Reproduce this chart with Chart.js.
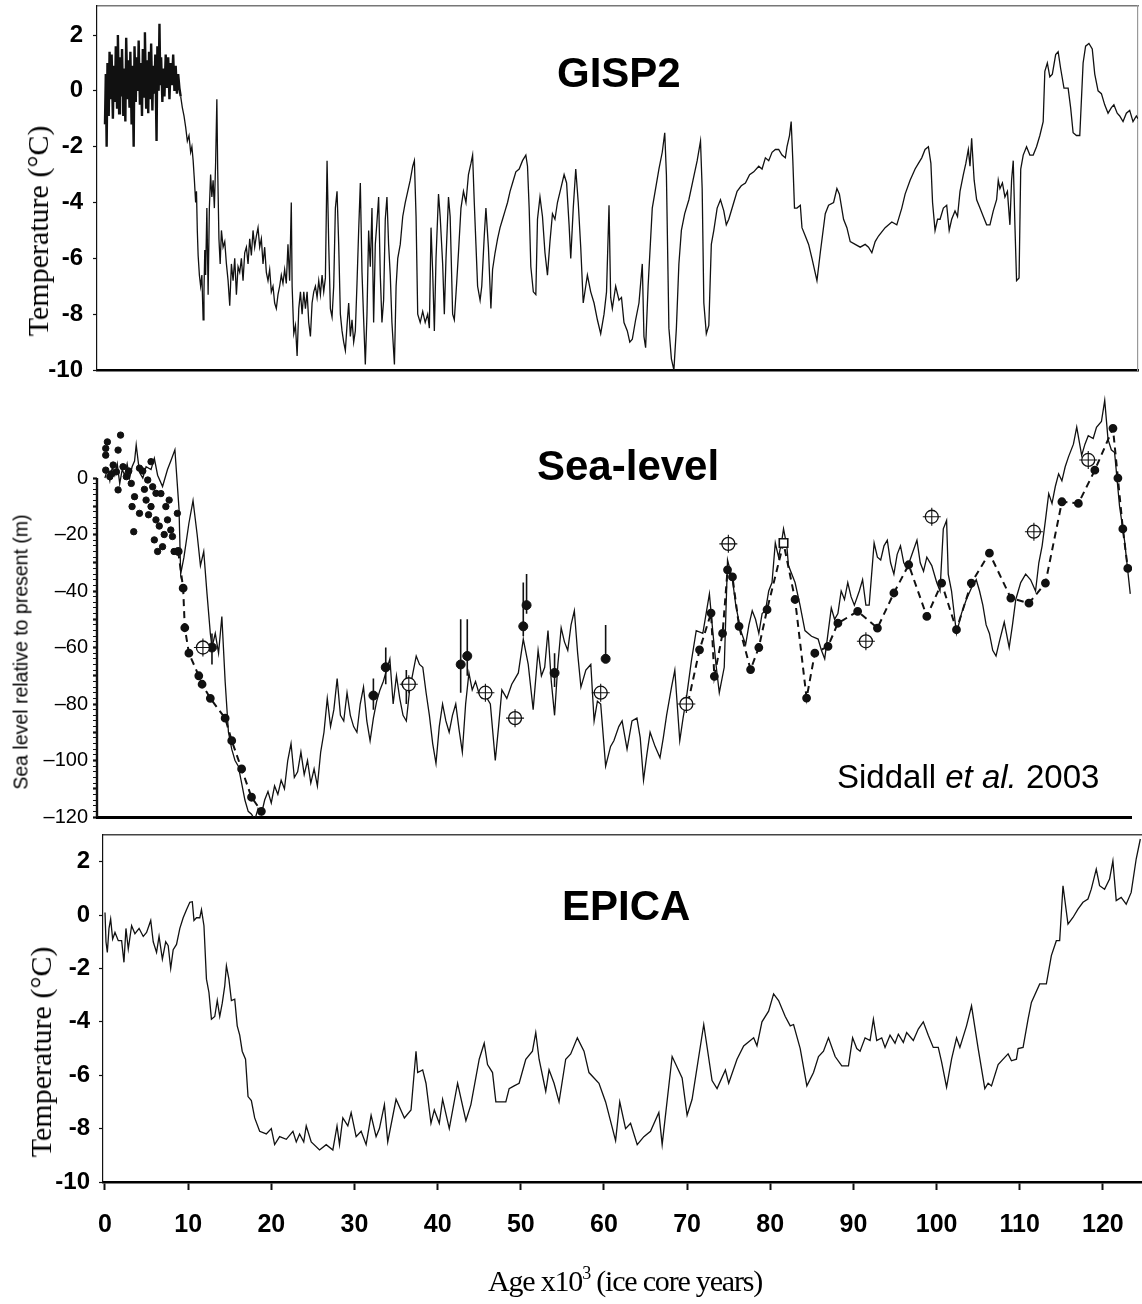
<!DOCTYPE html>
<html>
<head>
<meta charset="utf-8">
<title>GISP2 / Sea-level / EPICA</title>
<script src="https://cdn.jsdelivr.net/npm/chart.js@4.4.1/dist/chart.umd.min.js"></script>
<style>
  body { margin: 0; background: #fff; }
  #wrap { position: relative; width: 1142px; height: 1304px; overflow: hidden; }
  canvas { position: absolute; left: 0; }
  .txt { position: absolute; white-space: nowrap; color: #000; line-height: 1; z-index: 2; }
  .panelTitle { font: bold 42px 'Liberation Sans', Arial, sans-serif; }
  .yTitle { transform: translate(-50%, -50%) rotate(-90deg); }
  .serif { font-family: 'Liberation Serif', 'Times New Roman', serif; }
</style>
</head>
<body>
<div id="wrap">
  <canvas id="gispChart" width="1142" height="392" style="top:0"></canvas>
  <canvas id="seaChart" width="1142" height="455" style="top:380px"></canvas>
  <canvas id="epicaChart" width="1142" height="479" style="top:825px"></canvas>

  <div class="txt panelTitle" style="left:557px; top:49px">GISP2</div>
  <div class="txt panelTitle" style="left:537px; top:442px">Sea-level</div>
  <div class="txt panelTitle" style="left:562px; top:882px">EPICA</div>
  <div class="txt" style="left:837px; top:758px; font:33px 'Liberation Sans', Arial, sans-serif">Siddall <i>et al.</i> 2003</div>

  <div class="txt yTitle serif" style="left:38px; top:231px; font-size:30px">Temperature (°C)</div>
  <div class="txt yTitle" style="left:21px; top:652px; font:19.5px 'Liberation Sans', Arial, sans-serif">Sea level relative to present (m)</div>
  <div class="txt yTitle serif" style="left:41px; top:1052px; font-size:30px">Temperature (°C)</div>

  <div class="txt serif" style="left:625px; top:1266px; font-size:30px; letter-spacing:-1.2px; transform:translateX(-50%)">Age x10<sup style="font-size:18px; vertical-align:12px; line-height:0">3</sup> (ice core years)</div>
</div>

<script>
// tick values
const ageTicks = [0, 10, 20, 30, 40, 50, 60, 70, 80, 90, 100, 110, 120];
const tempTicks = [-10, -8, -6, -4, -2, 0, 2];
const seaTickLabels = [0, -20, -40, -60, -80, -100, -120];

// GISP2 temperature anomaly, [age kyr, degC]
const gispRecord = [
  [0,-1.2],[0.1,0.6],[0.2,-2.0],[0.3,1.0],[0.45,-0.9],[0.55,1.4],[0.7,-0.3],[0.8,1.3],[0.95,-1.0],[1.05,0.9],
  [1.2,-0.4],[1.3,1.6],[1.45,-0.6],[1.55,2.0],[1.7,-0.8],[1.8,1.2],[1.95,-0.2],[2.05,1.5],[2.2,-0.9],[2.3,0.8],
  [2.45,-1.1],[2.55,1.9],[2.7,-0.3],[2.8,1.1],[2.95,-0.6],[3.05,1.4],[3.2,-1.2],[3.3,0.9],[3.45,-2.0],[3.55,1.6],
  [3.7,-0.4],[3.8,1.2],[3.95,0.0],[4.05,1.8],[4.2,-0.5],[4.3,1.0],[4.45,-0.9],[4.55,1.5],[4.7,-0.2],[4.8,2.1],
  [4.95,-0.6],[5.05,1.1],[5.2,-0.8],[5.3,1.4],[5.45,-0.3],[5.55,1.7],[5.7,-0.7],[5.8,0.9],[5.95,-0.1],[6.05,1.3],
  [6.2,-1.8],[6.3,1.6],[6.45,0.0],[6.55,2.4],[6.65,0.2],[6.75,1.2],[6.9,-0.4],[7.0,0.8],[7.15,-0.2],[7.3,1.3],
  [7.45,0.1],[7.6,1.2],[7.75,-0.3],[7.9,1.0],[8.05,0.2],[8.2,1.3],[8.35,0.0],[8.5,0.9],[8.65,-0.1],[8.8,0.6],
  [8.95,0.1],[9.1,-0.2],[9.3,-0.6],[9.5,-0.9],[9.7,-1.3],[9.9,-1.8],[10.1,-1.6],[10.3,-2.2],[10.45,-2.0],[10.6,-2.5],
  [10.75,-3.2],[10.9,-4.0],[11.0,-3.6],[11.1,-5.0],[11.2,-5.9],[11.35,-6.6],[11.5,-7.0],[11.65,-6.6],[11.8,-8.2],[11.9,-7.2],
  [12.0,-5.7],[12.1,-6.6],[12.25,-4.2],[12.4,-7.3],[12.55,-4.2],[12.7,-3.0],[12.85,-3.8],[13.0,-3.2],[13.15,-4.2],[13.3,-2.6],
  [13.45,-0.3],[13.55,-2.8],[13.7,-5.3],[13.85,-6.2],[14.0,-5.0],[14.2,-5.6],[14.4,-5.4],[14.6,-6.2],[14.8,-6.8],[15.0,-7.7],
  [15.2,-6.2],[15.4,-6.8],[15.6,-6.0],[15.8,-7.3],[16.0,-6.3],[16.2,-6.5],[16.4,-6.0],[16.6,-6.8],[16.8,-5.8],[17.0,-5.6],
  [17.2,-6.2],[17.4,-5.3],[17.6,-5.9],[17.8,-5.0],[18.0,-5.6],[18.2,-5.2],[18.4,-4.9],[18.6,-5.6],[18.8,-5.3],[19.0,-6.2],
  [19.2,-5.6],[19.4,-6.5],[19.6,-6.8],[19.8,-6.4],[20.0,-7.2],[20.2,-7.0],[20.4,-7.6],[20.6,-7.8],[20.8,-7.3],[21.0,-7.0],
  [21.2,-6.6],[21.4,-6.9],[21.6,-6.4],[21.8,-6.9],[22.0,-5.5],[22.2,-6.8],[22.4,-4.0],[22.5,-7.0],[22.7,-8.7],[22.9,-8.4],
  [23.1,-9.5],[23.3,-7.8],[23.5,-7.2],[23.7,-8.0],[23.9,-7.2],[24.1,-7.8],[24.3,-7.2],[24.5,-8.3],[24.7,-8.8],[24.9,-7.6],
  [25.1,-7.2],[25.3,-7.0],[25.5,-7.4],[25.7,-6.8],[25.9,-7.3],[26.1,-6.6],[26.3,-7.2],[26.5,-6.7],[26.7,-2.5],[26.9,-5.5],
  [27.1,-7.8],[27.3,-8.1],[27.5,-7.0],[27.7,-4.2],[27.9,-3.6],[28.1,-5.5],[28.3,-8.0],[28.5,-8.6],[28.7,-9.0],[28.9,-9.3],
  [29.1,-8.4],[29.3,-7.6],[29.5,-8.8],[29.7,-8.2],[29.9,-9.0],[30.1,-8.6],[30.3,-6.9],[30.5,-5.0],[30.7,-3.3],[30.9,-6.5],
  [31.1,-8.2],[31.3,-9.8],[31.5,-8.0],[31.7,-5.0],[31.9,-6.3],[32.1,-4.2],[32.3,-8.3],[32.5,-5.5],[32.7,-4.7],[32.9,-3.8],
  [33.1,-6.6],[33.3,-8.3],[33.5,-7.5],[33.7,-4.6],[33.9,-3.8],[34.1,-5.5],[34.3,-6.6],[34.5,-8.3],[34.8,-9.8],[35.0,-7.0],
  [35.2,-6.0],[35.5,-5.5],[35.8,-4.5],[36.1,-4.0],[36.4,-3.6],[36.7,-3.2],[37.0,-2.7],[37.2,-2.5],[37.4,-4.5],[37.6,-8.0],
  [37.9,-8.3],[38.2,-7.9],[38.5,-8.3],[38.8,-8.0],[39.0,-8.5],[39.2,-4.9],[39.4,-6.5],[39.6,-8.6],[39.8,-6.0],[40.1,-3.7],
  [40.3,-4.5],[40.6,-6.2],[40.8,-8.0],[41.0,-6.0],[41.3,-3.8],[41.5,-4.5],[41.8,-8.0],[42.0,-8.2],[42.3,-6.8],[42.5,-5.8],
  [42.8,-4.2],[43.1,-3.6],[43.4,-4.0],[43.7,-3.0],[44.0,-2.6],[44.2,-2.3],[44.4,-4.0],[44.6,-5.5],[44.8,-7.0],[45.1,-7.5],
  [45.3,-7.0],[45.6,-5.2],[45.8,-4.2],[46.1,-5.6],[46.4,-7.8],[46.6,-6.4],[46.9,-5.8],[47.2,-5.3],[47.5,-4.9],[47.8,-4.6],
  [48.1,-4.3],[48.4,-4.0],[48.7,-3.6],[49.0,-3.3],[49.4,-2.9],[49.8,-2.8],[50.2,-2.5],[50.6,-2.3],[50.8,-2.7],[51.0,-4.2],
  [51.2,-6.3],[51.5,-7.2],[51.8,-7.3],[52.0,-4.6],[52.3,-3.8],[52.6,-4.5],[52.9,-5.8],[53.2,-6.6],[53.5,-5.4],[53.8,-4.4],
  [54.1,-4.6],[54.4,-4.0],[54.8,-3.5],[55.2,-3.0],[55.5,-3.3],[55.8,-4.8],[56.0,-6.0],[56.3,-4.2],[56.6,-2.8],[56.9,-4.0],
  [57.2,-5.6],[57.5,-7.6],[57.8,-7.0],[58.0,-6.6],[58.4,-7.2],[58.8,-7.6],[59.2,-8.2],[59.6,-8.7],[60.0,-8.0],[60.3,-7.2],
  [60.6,-4.1],[60.8,-7.4],[61.0,-7.8],[61.4,-7.0],[61.8,-7.5],[62.1,-7.4],[62.4,-8.3],[62.8,-8.6],[63.1,-9.0],[63.4,-8.9],
  [63.8,-8.2],[64.2,-7.6],[64.6,-6.2],[64.8,-8.8],[65.0,-9.2],[65.3,-7.0],[65.8,-4.2],[66.2,-3.5],[66.6,-2.8],[67.0,-2.2],
  [67.3,-1.5],[67.5,-3.0],[67.8,-8.5],[68.1,-9.6],[68.4,-10.0],[68.7,-8.5],[69.0,-6.2],[69.3,-5.0],[69.7,-4.4],[70.2,-3.9],
  [70.7,-3.2],[71.2,-2.5],[71.6,-1.8],[71.8,-3.5],[72.0,-7.6],[72.3,-8.7],[72.6,-8.4],[72.9,-5.5],[73.2,-5.0],[73.6,-4.2],
  [74.0,-3.9],[74.4,-4.3],[74.7,-4.8],[75.0,-4.6],[75.5,-4.1],[76.0,-3.6],[76.5,-3.4],[77.0,-3.3],[77.5,-3.0],[78.0,-2.9],
  [78.6,-2.7],[79.0,-2.8],[79.4,-2.4],[79.8,-2.5],[80.2,-2.2],[80.6,-2.1],[81.0,-2.1],[81.4,-2.3],[81.8,-2.4],[82.0,-2.0],
  [82.3,-1.6],[82.5,-1.1],[82.7,-2.5],[82.9,-4.2],[83.2,-4.2],[83.6,-4.1],[83.8,-4.9],[84.2,-5.2],[84.6,-5.5],[85.0,-6.0],
  [85.6,-6.8],[86.0,-5.8],[86.6,-4.4],[87.0,-4.1],[87.6,-4.0],[88.0,-3.5],[88.3,-3.7],[88.8,-4.6],[89.2,-4.9],[89.6,-5.4],
  [90.2,-5.5],[90.8,-5.6],[91.4,-5.5],[91.8,-5.6],[92.2,-5.8],[92.6,-5.4],[93.0,-5.2],[93.8,-4.9],[94.6,-4.7],[95.2,-4.8],
  [95.8,-4.2],[96.2,-3.7],[96.8,-3.2],[97.4,-2.8],[97.8,-2.6],[98.2,-2.4],[98.6,-2.1],[99.0,-2.0],[99.3,-2.6],[99.5,-4.0],
  [99.8,-5.0],[100.1,-4.6],[100.4,-4.6],[100.8,-4.2],[101.2,-4.1],[101.5,-5.0],[101.8,-4.6],[102.2,-4.3],[102.5,-4.5],[102.8,-3.6],
  [103.2,-3.0],[103.5,-2.6],[103.8,-2.1],[104.0,-2.7],[104.2,-1.7],[104.5,-3.2],[104.8,-3.9],[105.2,-4.2],[105.6,-4.5],[106.0,-4.8],
  [106.4,-4.8],[106.8,-4.3],[107.2,-3.9],[107.4,-3.2],[107.6,-3.5],[107.9,-3.3],[108.2,-3.8],[108.5,-3.6],[108.8,-4.8],[109.0,-3.2],
  [109.2,-2.5],[109.4,-4.8],[109.6,-6.8],[109.9,-6.7],[110.1,-2.8],[110.4,-2.3],[110.8,-2.0],[111.2,-2.3],[111.6,-2.3],[112.0,-2.0],
  [112.4,-1.6],[112.8,-1.1],[113.0,0.7],[113.3,1.0],[113.6,0.5],[113.9,0.6],[114.3,1.3],[114.6,1.4],[114.9,0.8],[115.3,0.1],
  [115.8,0.1],[116.1,-0.6],[116.4,-1.5],[116.8,-1.6],[117.2,-1.6],[117.6,1.0],[117.9,1.6],[118.3,1.7],[118.7,1.5],[119.0,0.6],
  [119.4,0.0],[119.8,-0.1],[120.2,-0.5],[120.6,-0.8],[121.0,-0.6],[121.3,-0.5],[121.7,-0.8],[122.0,-0.9],[122.4,-1.1],[122.8,-0.8],
  [123.2,-0.7],[123.6,-1.1],[124.0,-0.9],[124.2,-1.0]
];

// Siddall et al. sea-level curve, [age kyr, m]
const seaRecord = [
  [0,0],[0.3,3],[0.6,-1],[0.9,4],[1.2,1],[1.5,5],[1.8,-2],[2.1,3],[2.4,1],[2.7,5],
  [3.0,0],[3.3,4],[3.6,6],[3.8,11.7],[4.2,2],[4.6,0],[5.0,4],[5.6,3],[6.0,7],[6.4,1],
  [7.0,-3],[7.6,3],[8.0,6],[8.5,10],[9.0,-11],[9.2,-34],[9.6,-28],[10.2,-16],[10.7,-8],[11.2,-20],
  [11.6,-31],[12.0,-26],[12.4,-41],[12.8,-55],[13.0,-60],[13.4,-55],[13.8,-62],[14.2,-49],[14.6,-72],[15.0,-90],
  [15.4,-96],[15.8,-100],[16.2,-102],[16.6,-108],[17.0,-114],[17.4,-118],[17.8,-119],[18.2,-121],[18.6,-117],[19.0,-119],
  [19.4,-114],[19.8,-111],[20.2,-115],[20.6,-109],[21.0,-112],[21.4,-107],[21.8,-110],[22.2,-100],[22.6,-94],[23.0,-106],
  [23.4,-104],[23.8,-97],[24.2,-105],[24.6,-100],[25.0,-108],[25.4,-103],[25.8,-109],[26.2,-97],[26.6,-90],[27.0,-78],
  [27.4,-88],[27.8,-82],[28.2,-71],[28.6,-84],[29.0,-86],[29.4,-76],[29.8,-84],[30.2,-88],[30.6,-90],[31.0,-80],
  [31.4,-74],[31.8,-86],[32.2,-93],[32.6,-85],[33.0,-79],[33.4,-75],[33.8,-72],[34.2,-68],[34.6,-64],[35.0,-80],
  [35.4,-70],[35.8,-78],[36.2,-84],[36.6,-86],[37.0,-75],[37.4,-69],[37.8,-63],[38.2,-66],[38.6,-67],[39.0,-76],
  [39.4,-84],[39.8,-94],[40.2,-101],[40.6,-88],[41.0,-80],[41.4,-86],[41.8,-90],[42.2,-84],[42.6,-80],[43.0,-89],
  [43.4,-97],[43.8,-80],[44.2,-69],[44.6,-75],[45.0,-72],[45.4,-76],[45.8,-78],[46.2,-77],[46.8,-80],[47.4,-100],
  [47.8,-88],[48.2,-75],[48.8,-78],[49.4,-73],[49.8,-71],[50.2,-69],[50.8,-57],[51.4,-66],[52.0,-82],[52.6,-61],
  [53.0,-70],[53.4,-67],[53.8,-54],[54.2,-72],[54.6,-84],[55.0,-66],[55.4,-53],[55.8,-58],[56.2,-61],[56.6,-52],
  [57.0,-47],[57.4,-62],[57.8,-74],[58.4,-68],[59.0,-66],[59.4,-86],[59.8,-79],[60.2,-80],[60.8,-102],[61.4,-95],
  [61.8,-93],[62.4,-88],[62.8,-86],[63.4,-96],[64.0,-86],[64.6,-85],[65.0,-92],[65.4,-107],[65.8,-98],[66.2,-90],
  [66.8,-95],[67.4,-99],[67.8,-92],[68.2,-84],[68.8,-74],[69.2,-68],[69.8,-93],[70.2,-85],[70.6,-78],[71.2,-65],
  [71.8,-54],[72.6,-55],[73.0,-48],[73.4,-41],[73.8,-54],[74.2,-66],[74.6,-76],[75.2,-67],[75.6,-29],[76.2,-36],
  [76.6,-45],[77.2,-54],[77.8,-59],[78.2,-52],[78.6,-47],[79.0,-50],[79.4,-55],[79.8,-48],[80.2,-47],[80.6,-40],
  [81.0,-37],[81.4,-23],[81.8,-28],[82.2,-22],[82.4,-18],[82.8,-24],[83.0,-31],[83.8,-37],[84.4,-45],[85.0,-54],
  [85.8,-56],[86.6,-57],[87.0,-61],[87.4,-64],[87.8,-55],[88.2,-46],[88.6,-50],[89.0,-48],[89.4,-40],[89.8,-43],
  [90.2,-37],[90.6,-42],[91.0,-45],[91.6,-40],[92.0,-36],[92.4,-45],[92.8,-45],[93.4,-23],[93.8,-28],[94.2,-29],
  [94.6,-24],[95.0,-22],[95.4,-30],[95.8,-34],[96.2,-27],[96.6,-24],[97.0,-30],[97.4,-32],[98.0,-27],[98.6,-22],
  [99.0,-30],[99.4,-33],[99.8,-28],[100.4,-31],[101.0,-37],[101.4,-40],[101.8,-18],[102.2,-15],[102.4,-34],[102.8,-40],
  [103.4,-55],[104.0,-48],[104.6,-43],[105.2,-39],[105.8,-36],[106.2,-40],[106.6,-45],[107.0,-52],[107.4,-55],[107.8,-61],
  [108.2,-63],[108.6,-58],[109.2,-51],[109.8,-60],[110.2,-52],[110.6,-43],[111.2,-37],[111.8,-34],[112.4,-36],[113.0,-40],
  [113.4,-30],[113.8,-24],[114.2,-15],[114.6,-5.5],[115.0,-9],[115.4,-3],[115.8,1.5],[116.2,-1],[116.6,4],[117.0,7.5],
  [117.6,12],[118.0,18],[118.6,8],[119.0,12],[119.4,15],[120.0,14],[120.4,18],[121.0,20],[121.4,27.5],[121.8,13.7],
  [122.2,10],[122.6,9],[123.2,-10],[123.8,-22],[124.5,-41]
];

// dashed reconstruction with its sample dots, [age kyr, m]; null splits the two stretches
const dashRecord = [
  [8.9,-26],[9.5,-39],[9.7,-53],[10.2,-62],[11.4,-70],[11.8,-73],[12.8,-78],[14.6,-85],[15.4,-93],[16.6,-103],
  [17.8,-113],[19.0,-118],[19.6,null],
  [70.8,-79.6],[72.2,-60.8],[73.6,-47.8],[74.0,-70.2],[75.0,-55],[75.6,-32.5],[76.2,-35],[77.0,-52.5],[78.4,-67.8],
  [79.4,-60],[80.4,-46.6],[82.4,-23],[83.8,-43],[85.2,-77.9],[86.2,-62],[87.8,-59.6],[89.0,-51.4],[91.4,-47.2],[93.8,-53.1],
  [95.8,-40.7],[97.6,-30.7],[99.8,-49],[101.6,-37.2],[103.4,-53.7],[105.2,-37.2],[107.4,-26.6],[110.0,-42.5],[112.2,-44.3],[114.2,-37.2],
  [116.2,-8.4],[118.2,-9],[120.2,2.8],[122.4,17.6],[123.0,0],[123.6,-18],[124.2,-32]
];

// coral terrace points, [age kyr, m]
const coralPoints = [
  [0.1,10.5],[0.3,12.8],[1.9,15.2],[1.6,9.9],[0.1,8.1],[1.0,4.6],[0.1,2.8],[0.6,0.5],[1.4,2.2],[2.2,4],
  [1.6,-4.2],[3.2,-1.9],[3.6,-6.6],[3.3,-10.1],[4.2,-12.5],[3.5,-19],[4.6,2.5],[5.2,-0.7],[5.0,-7.8],[5.8,-3.1],
  [5.6,-10.1],[6.2,-5.4],[6.2,-14.8],[6.0,-21.9],[6.4,-26],[7.0,-24.3],[7.4,-10.1],[7.6,-14.8],[7.8,-7.8],[8.0,-18.4],
  [8.2,-20.7],[8.4,-26],[8.8,-12.5],[5.6,5.8],[4.2,3.5],[6.8,-5.5],[0.8,1.5],[2.6,0.5],[2.9,2.5],[6.6,-17],
  [7.2,-20],[5.3,-13],[4.8,-4]
];

// open circle + cross markers, [age kyr, m]
const crossPoints = [
  [11.9,-60],[36.9,-73],[46.2,-76],[49.8,-85],[60.2,-76],[70.6,-80],[75.7,-23.3],[92.4,-57.8],[100.4,-13.7],[112.8,-19],[119.4,6.4]
];
const squarePoints = [[82.4,-23]];

// dated samples with error ranges, [age kyr, m, low, high]
const errorPoints = [
  [13.0,-60,-66,-55],[32.6,-77,-82,-71],[34.1,-67,-73,-60],[36.6,-73,-80,-68],[43.2,-66,-76,-50],
  [44.0,-63,-70,-50],[50.8,-52.5,-56,-37],[51.2,-45,-48,-34],[54.6,-69,-74,-62],[60.8,-64,-64,-52]
];

// EPICA temperature anomaly, [age kyr, degC]
const epicaRecord = [
  [0,0.1],[0.12,-1.0],[0.28,-1.4],[0.48,-0.5],[0.68,-0.15],[0.92,-0.9],[1.2,-0.65],[1.6,-0.96],[2.0,-0.96],[2.28,-1.77],
  [2.52,-0.5],[2.8,-1.27],[3.2,-0.4],[3.6,-0.7],[4.1,-0.5],[4.6,-0.8],[5.0,-0.65],[5.5,-0.2],[5.8,-1.0],[6.2,-1.4],
  [6.5,-0.8],[6.9,-1.65],[7.3,-1.0],[7.6,-1.15],[7.9,-2.0],[8.2,-1.3],[8.6,-1.1],[9.0,-0.5],[9.4,-0.1],[9.8,0.2],
  [10.2,0.48],[10.5,0.5],[10.7,-0.2],[11.0,-0.1],[11.4,-0.1],[11.6,0.2],[11.9,-0.4],[12.2,-2.4],[12.5,-2.9],[12.8,-3.9],
  [13.2,-3.8],[13.5,-3.2],[13.8,-3.8],[14.1,-3.3],[14.4,-2.65],[14.6,-1.9],[14.9,-2.4],[15.2,-3.2],[15.6,-3.15],[15.9,-4.15],
  [16.2,-4.5],[16.5,-5.1],[16.9,-5.4],[17.2,-6.8],[17.6,-6.95],[18.0,-7.6],[18.6,-8.1],[19.4,-8.2],[20.0,-8.0],[20.4,-8.6],
  [21.0,-8.3],[21.8,-8.4],[22.6,-8.1],[23.0,-8.5],[23.4,-8.2],[23.9,-8.5],[24.2,-7.9],[24.8,-8.5],[25.8,-8.8],[26.6,-8.6],
  [27.4,-8.8],[27.9,-7.9],[28.2,-8.6],[28.6,-7.6],[29.2,-7.9],[29.6,-7.4],[30.2,-8.3],[30.8,-8.1],[31.4,-8.6],[32.0,-7.5],
  [32.6,-8.3],[33.0,-8.0],[33.6,-7.1],[34.0,-8.5],[35.0,-6.9],[36.0,-7.6],[36.8,-7.3],[37.4,-5.1],[37.6,-5.9],[38.2,-5.8],
  [38.6,-6.3],[39.2,-7.8],[39.6,-7.3],[40.2,-7.8],[40.6,-6.9],[41.4,-8.0],[42.4,-6.3],[43.4,-7.7],[44.0,-7.1],[45.0,-5.4],
  [45.6,-4.8],[46.0,-5.6],[46.6,-5.9],[47.0,-7.0],[48.2,-7.0],[48.6,-6.5],[49.2,-6.4],[49.8,-6.3],[50.6,-5.4],[51.4,-5.1],
  [51.8,-4.4],[52.2,-5.4],[53.0,-6.6],[53.4,-5.8],[54.0,-6.3],[54.6,-7.0],[55.4,-5.4],[56.0,-5.2],[56.8,-4.6],[57.6,-5.1],
  [58.2,-5.9],[59.4,-6.3],[60.2,-7.0],[61.4,-8.45],[61.9,-7.0],[62.6,-8.0],[63.2,-7.8],[64.0,-8.6],[64.8,-8.3],[65.6,-8.1],
  [66.6,-7.4],[67.0,-8.6],[68.2,-5.3],[69.4,-6.1],[70.0,-7.5],[70.6,-6.9],[72.0,-4.1],[73.0,-6.2],[73.6,-6.5],[74.6,-5.8],
  [75.0,-6.3],[76.0,-5.4],[76.8,-4.9],[78.0,-4.6],[78.4,-4.9],[79.0,-4.0],[79.8,-3.6],[80.4,-2.95],[81.0,-3.2],[81.8,-3.8],
  [82.4,-4.15],[82.8,-4.1],[83.6,-5.0],[84.4,-6.4],[85.2,-5.9],[85.8,-5.3],[86.4,-5.1],[87.0,-4.6],[87.8,-5.3],[88.6,-5.65],
  [89.4,-5.65],[89.9,-4.6],[90.4,-5.0],[90.8,-5.1],[91.4,-4.6],[92.0,-4.7],[92.4,-3.9],[92.8,-4.7],[93.4,-4.6],[93.8,-4.96],
  [94.4,-4.5],[95.0,-4.8],[95.4,-4.46],[96.0,-4.77],[96.4,-4.4],[97.2,-4.7],[97.8,-4.27],[98.4,-4.0],[99.0,-4.5],[99.6,-4.96],
  [100.2,-4.96],[100.6,-5.5],[101.2,-6.45],[101.8,-5.4],[102.4,-4.6],[102.8,-4.96],[103.6,-4.15],[104.2,-3.4],[105.0,-5.0],[105.8,-6.5],
  [106.2,-6.3],[106.6,-6.4],[107.4,-5.6],[108.2,-5.33],[108.6,-5.2],[109.0,-5.46],[109.6,-5.4],[109.8,-5.0],[110.4,-4.96],[111.0,-3.9],
  [111.4,-3.27],[112.4,-2.58],[113.2,-2.58],[113.8,-1.52],[114.4,-0.96],[114.8,-0.96],[115.2,1.1],[115.8,-0.34],[116.4,-0.09],[117.0,0.22],
  [117.6,0.48],[118.2,0.6],[118.6,0.97],[119.2,1.72],[119.6,1.1],[120.2,0.97],[120.8,1.35],[121.2,2.03],[121.6,0.54],[122.2,0.66],
  [122.8,0.41],[123.4,0.85],[124.0,2.1],[124.5,2.85]
];

// sea-level axis only runs over the measured range
const seaAxisRange = [0, -120];

const INK = '#111';
const AGE_MIN_TOP = -0.96;
const boldTick = { family: "'Liberation Sans', Arial, sans-serif", size: 24, weight: 'bold' };
const narrowTick = { family: "'Liberation Sans Narrow', 'Arial Narrow', 'Liberation Sans', sans-serif", size: 25, weight: 'bold' };

const toXY = rows => rows.map(r => ({ x: r[0], y: r[1] }));

// fixed axis sizes so the three plot areas line up
function pinWidth(w) {
  return s => { s.width = w; s.paddingTop = 0; s.paddingBottom = 0; };
}
function pinHeight(h) {
  return s => { s.height = h; s.paddingLeft = 0; s.paddingRight = 0; };
}

function frameAxis(position, min, max, color, width, dash) {
  const horizontal = position === 'top' || position === 'bottom';
  return {
    type: 'linear', position, min, max,
    ticks: { display: false },
    grid: { display: false },
    border: { display: true, color, width, dash: dash || [] },
    afterFit: horizontal ? pinHeight(0) : pinWidth(0)
  };
}

function tempAxis(min, max, width, pad) {
  return {
    type: 'linear', min, max,
    afterBuildTicks: s => { s.ticks = tempTicks.map(v => ({ value: v })); },
    ticks: { font: boldTick, color: '#000', padding: pad, callback: v => String(v) },
    grid: { drawOnChartArea: false, drawTicks: true, tickLength: 4, color: INK, tickWidth: 1.2 },
    border: { color: INK, width: 1.2 },
    afterFit: pinWidth(width)
  };
}

const baseOptions = {
  responsive: false,
  animation: false,
  events: [],
  plugins: { legend: { display: false }, tooltip: { enabled: false } }
};

// GISP2 (the dense Holocene part is drawn heavier)
new Chart(document.getElementById('gispChart'), {
  type: 'line',
  data: {
    datasets: [{
      data: toXY(gispRecord),
      borderColor: INK, borderWidth: 1.3, pointRadius: 0, tension: 0,
      segment: { borderWidth: c => (c.p1.parsed.x <= 9.2 ? 2.4 : 1.3) }
    }]
  },
  options: {
    ...baseOptions,
    layout: { padding: { top: 6, right: 4, bottom: 22, left: 0 } },
    scales: {
      x: frameAxis('bottom', AGE_MIN_TOP, 124.2, '#000', 2.5),
      xTop: frameAxis('top', AGE_MIN_TOP, 124.2, '#777', 1.4, [3, 2]),
      y: tempAxis(-10, 3.04, 97, 10),
      yRight: frameAxis('right', -10, 3.04, '#999', 1.2, [4, 3])
    }
  }
});

// Sea-level
const errorBarLines = errorPoints.flatMap(r => [
  { x: r[0], y: r[2] }, { x: r[0], y: r[3] }, { x: r[0], y: null }
]);

new Chart(document.getElementById('seaChart'), {
  type: 'line',
  data: {
    datasets: [
      {
        type: 'scatter', data: toXY(crossPoints), order: 0,
        pointStyle: 'cross', pointRadius: 9, borderColor: INK, borderWidth: 1.1
      },
      {
        type: 'scatter', data: toXY(crossPoints), order: 1,
        pointStyle: 'circle', pointRadius: 6.5, backgroundColor: '#fff', borderColor: INK, borderWidth: 1.3
      },
      {
        type: 'scatter', data: toXY(squarePoints), order: 1,
        pointStyle: 'rect', pointRadius: 6, backgroundColor: '#fff', borderColor: INK, borderWidth: 1.6
      },
      {
        type: 'scatter', data: errorPoints.map(r => ({ x: r[0], y: r[1] })), order: 2,
        pointRadius: 4.5, backgroundColor: INK, borderColor: INK
      },
      {
        data: errorBarLines, order: 3, spanGaps: false,
        borderColor: INK, borderWidth: 1.6, pointRadius: 0
      },
      {
        type: 'scatter', data: toXY(coralPoints), order: 4,
        pointRadius: 3.2, backgroundColor: INK, borderColor: INK
      },
      {
        data: toXY(dashRecord), order: 5, spanGaps: false,
        borderColor: INK, borderWidth: 2, borderDash: [7, 5], tension: 0,
        pointRadius: 3.4, pointBackgroundColor: INK, pointBorderColor: INK
      },
      {
        data: toXY(seaRecord), order: 6,
        borderColor: INK, borderWidth: 1.3, pointRadius: 0, tension: 0
      },
      {
        // left axis line, drawn over 0 .. -120 m only
        data: seaAxisRange.map(v => ({ x: AGE_MIN_TOP, y: v })), order: 7,
        borderColor: INK, borderWidth: 2.4, pointRadius: 0, clip: 4
      }
    ]
  },
  options: {
    ...baseOptions,
    layout: { padding: { top: 15, right: 0, bottom: 18, left: 0 } },
    scales: {
      x: frameAxis('bottom', AGE_MIN_TOP, 124.7, '#000', 3),
      y: {
        type: 'linear', min: -120, max: 29.4,
        ticks: {
          stepSize: 2, includeBounds: false, autoSkip: false, maxTicksLimit: 200,
          font: { family: "'Liberation Sans', Arial, sans-serif", size: 20 },
          color: '#000', padding: 5,
          callback: v => (seaTickLabels.includes(v) ? (v === 0 ? '0' : '\u2013' + Math.abs(v)) : '')
        },
        grid: {
          drawOnChartArea: false, drawTicks: true, tickLength: 4,
          tickColor: c => (c.tick && c.tick.value <= 0 ? INK : 'rgba(0,0,0,0)'),
          tickWidth: c => (c.tick && c.tick.value % 10 === 0 ? 2.2 : 1)
        },
        border: { display: false },
        afterFit: pinWidth(97)
      }
    }
  }
});

// EPICA
new Chart(document.getElementById('epicaChart'), {
  type: 'line',
  data: {
    datasets: [{
      data: toXY(epicaRecord),
      borderColor: INK, borderWidth: 1.3, pointRadius: 0, tension: 0
    }]
  },
  options: {
    ...baseOptions,
    layout: { padding: { top: 10, right: 0, bottom: 52, left: 0 } },
    scales: {
      x: {
        type: 'linear', min: -0.24, max: 124.7,
        afterBuildTicks: s => { s.ticks = ageTicks.map(v => ({ value: v })); },
        ticks: { font: narrowTick, color: '#000', padding: 20, maxRotation: 0, autoSkip: false },
        grid: { drawOnChartArea: false, drawTicks: true, tickLength: 8, color: INK, tickWidth: 2 },
        border: { color: '#000', width: 2.5 },
        afterFit: pinHeight(70)
      },
      xTop: frameAxis('top', -0.24, 124.7, '#444', 1.5),
      y: tempAxis(-10, 3.0, 103, 9)
    }
  }
});
</script>
</body>
</html>
